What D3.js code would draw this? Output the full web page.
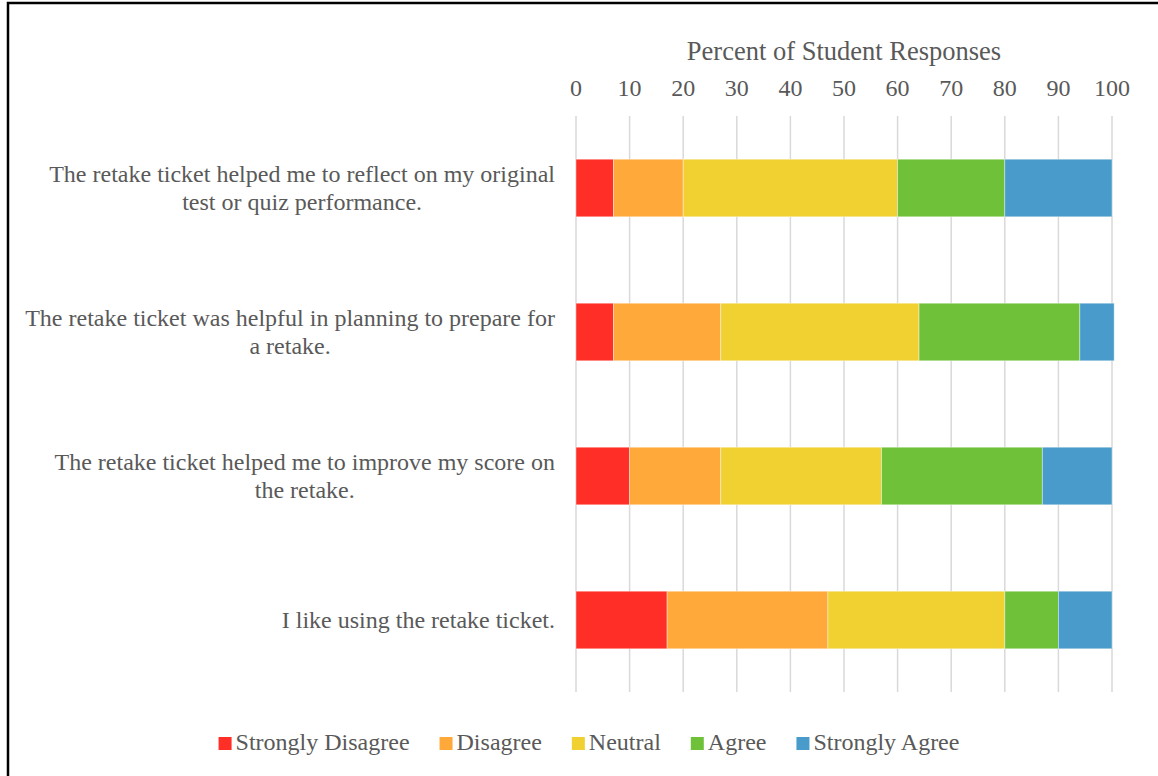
<!DOCTYPE html>
<html>
<head>
<meta charset="utf-8">
<script src="https://cdn.jsdelivr.net/npm/d3@7"></script>
<style>
  body { margin: 0; background: #fff; }
  text { font-family: "Liberation Serif", "Times New Roman", serif; fill: #595959; }
</style>
</head>
<body>
<script>
// Data
var questions = [
  "The retake ticket helped me to reflect on my original|test or quiz performance.",
  "The retake ticket was helpful in planning to prepare for|a retake.",
  "The retake ticket helped me to improve my score on|the retake.",
  "I like using the retake ticket."
];
var responses = ["Strongly Disagree", "Disagree", "Neutral", "Agree", "Strongly Agree"];
var stronglyDisagree = [7, 7, 10, 17];
var disagree = [13, 20, 17, 30];
var neutral = [40, 37, 30, 33];
var agree = [20, 30, 30, 10];
var stronglyAgree = [20, 6.4, 13, 10];
var ticks = [0, 10, 20, 30, 40, 50, 60, 70, 80, 90, 100];

var colors = ["#ff2e26", "#ffa93b", "#f0d131", "#70c13a", "#489bca"];

var width = 1158,
    height = 776;

var svg = d3.select("body").append("svg")
  .attr("width", width)
  .attr("height", height);

// outer frame (right and bottom run off the page)
svg.append("rect")
  .attr("x", 8).attr("y", 3)
  .attr("width", 1300).attr("height", 900)
  .attr("fill", "none")
  .attr("stroke", "#000")
  .attr("stroke-width", 2.5);

var x = d3.scaleLinear().domain([0, 100]).range([576, 1112]);
var y = d3.scaleBand().domain(questions).range([116, 692]).paddingInner(0.6).paddingOuter(0.3);

/*
 * Gridlines and top axis labels.
 */
svg.append("g").selectAll("line")
  .data(ticks)
  .enter().append("line")
  .attr("x1", function(d) { return x(d); })
  .attr("x2", function(d) { return x(d); })
  .attr("y1", 116)
  .attr("y2", 692)
  .attr("stroke", "#d9d9d9")
  .attr("stroke-width", 1.5);

svg.append("g").selectAll("text")
  .data(ticks)
  .enter().append("text")
  .attr("x", function(d) { return x(d); })
  .attr("y", 96)
  .attr("text-anchor", "middle")
  .style("font-size", "24px")
  .text(function(d) { return d; });

svg.append("text")
  .attr("x", (x(0) + x(100)) / 2)
  .attr("y", 60)
  .attr("text-anchor", "middle")
  .style("font-size", "26.5px")
  .text("Percent of Student Responses");

/*
 * Stack the series.
 */
var rows = questions.map(function(q, i) {
  return { q: q, "Strongly Disagree": stronglyDisagree[i], "Disagree": disagree[i],
    "Neutral": neutral[i], "Agree": agree[i], "Strongly Agree": stronglyAgree[i] };
});
var series = d3.stack().keys(responses)(rows);

var layer = svg.append("g").selectAll("g")
  .data(series)
  .enter().append("g")
  .attr("fill", function(d, i) { return colors[i]; });

layer.selectAll("rect")
  .data(function(d) { return d; })
  .enter().append("rect")
  .attr("x", function(d) { return x(d[0]); })
  .attr("width", function(d) { return x(d[1]) - x(d[0]); })
  .attr("y", function(d) { return y(d.data.q); })
  .attr("height", y.bandwidth())
  .attr("stroke", "#fff")
  .attr("stroke-opacity", 0.5)
  .attr("stroke-width", 0.8);

/*
 * Category labels: block right aligned, lines centered inside it.
 */
questions.forEach(function(q) {
  var lines = q.split("|");
  var g = svg.append("g");
  var cy = y(q) + y.bandwidth() / 2;
  var lh = 28;
  var t = g.selectAll("text")
    .data(lines)
    .enter().append("text")
    .attr("y", function(d, i) { return cy + (i - (lines.length - 1) / 2) * lh + 8; })
    .attr("text-anchor", "middle")
    .style("font-size", "24px")
    .text(function(d) { return d; });
  var maxW = 0;
  t.each(function() { maxW = Math.max(maxW, this.getComputedTextLength()); });
  t.attr("x", 555 - maxW / 2);
});

/*
 * Legend.
 */
var legend = svg.append("g");
var lx = 0;
responses.forEach(function(r, i) {
  legend.append("rect")
    .attr("x", lx).attr("y", -13)
    .attr("width", 13).attr("height", 13)
    .attr("fill", colors[i]);
  var t = legend.append("text")
    .attr("x", lx + 17)
    .attr("y", 0)
    .style("font-size", "24px")
    .text(r);
  lx += 17 + t.node().getComputedTextLength() + 30;
});
lx -= 30;
legend.attr("transform", "translate(" + (589 - lx / 2) + ",750)");
</script>
</body>
</html>
